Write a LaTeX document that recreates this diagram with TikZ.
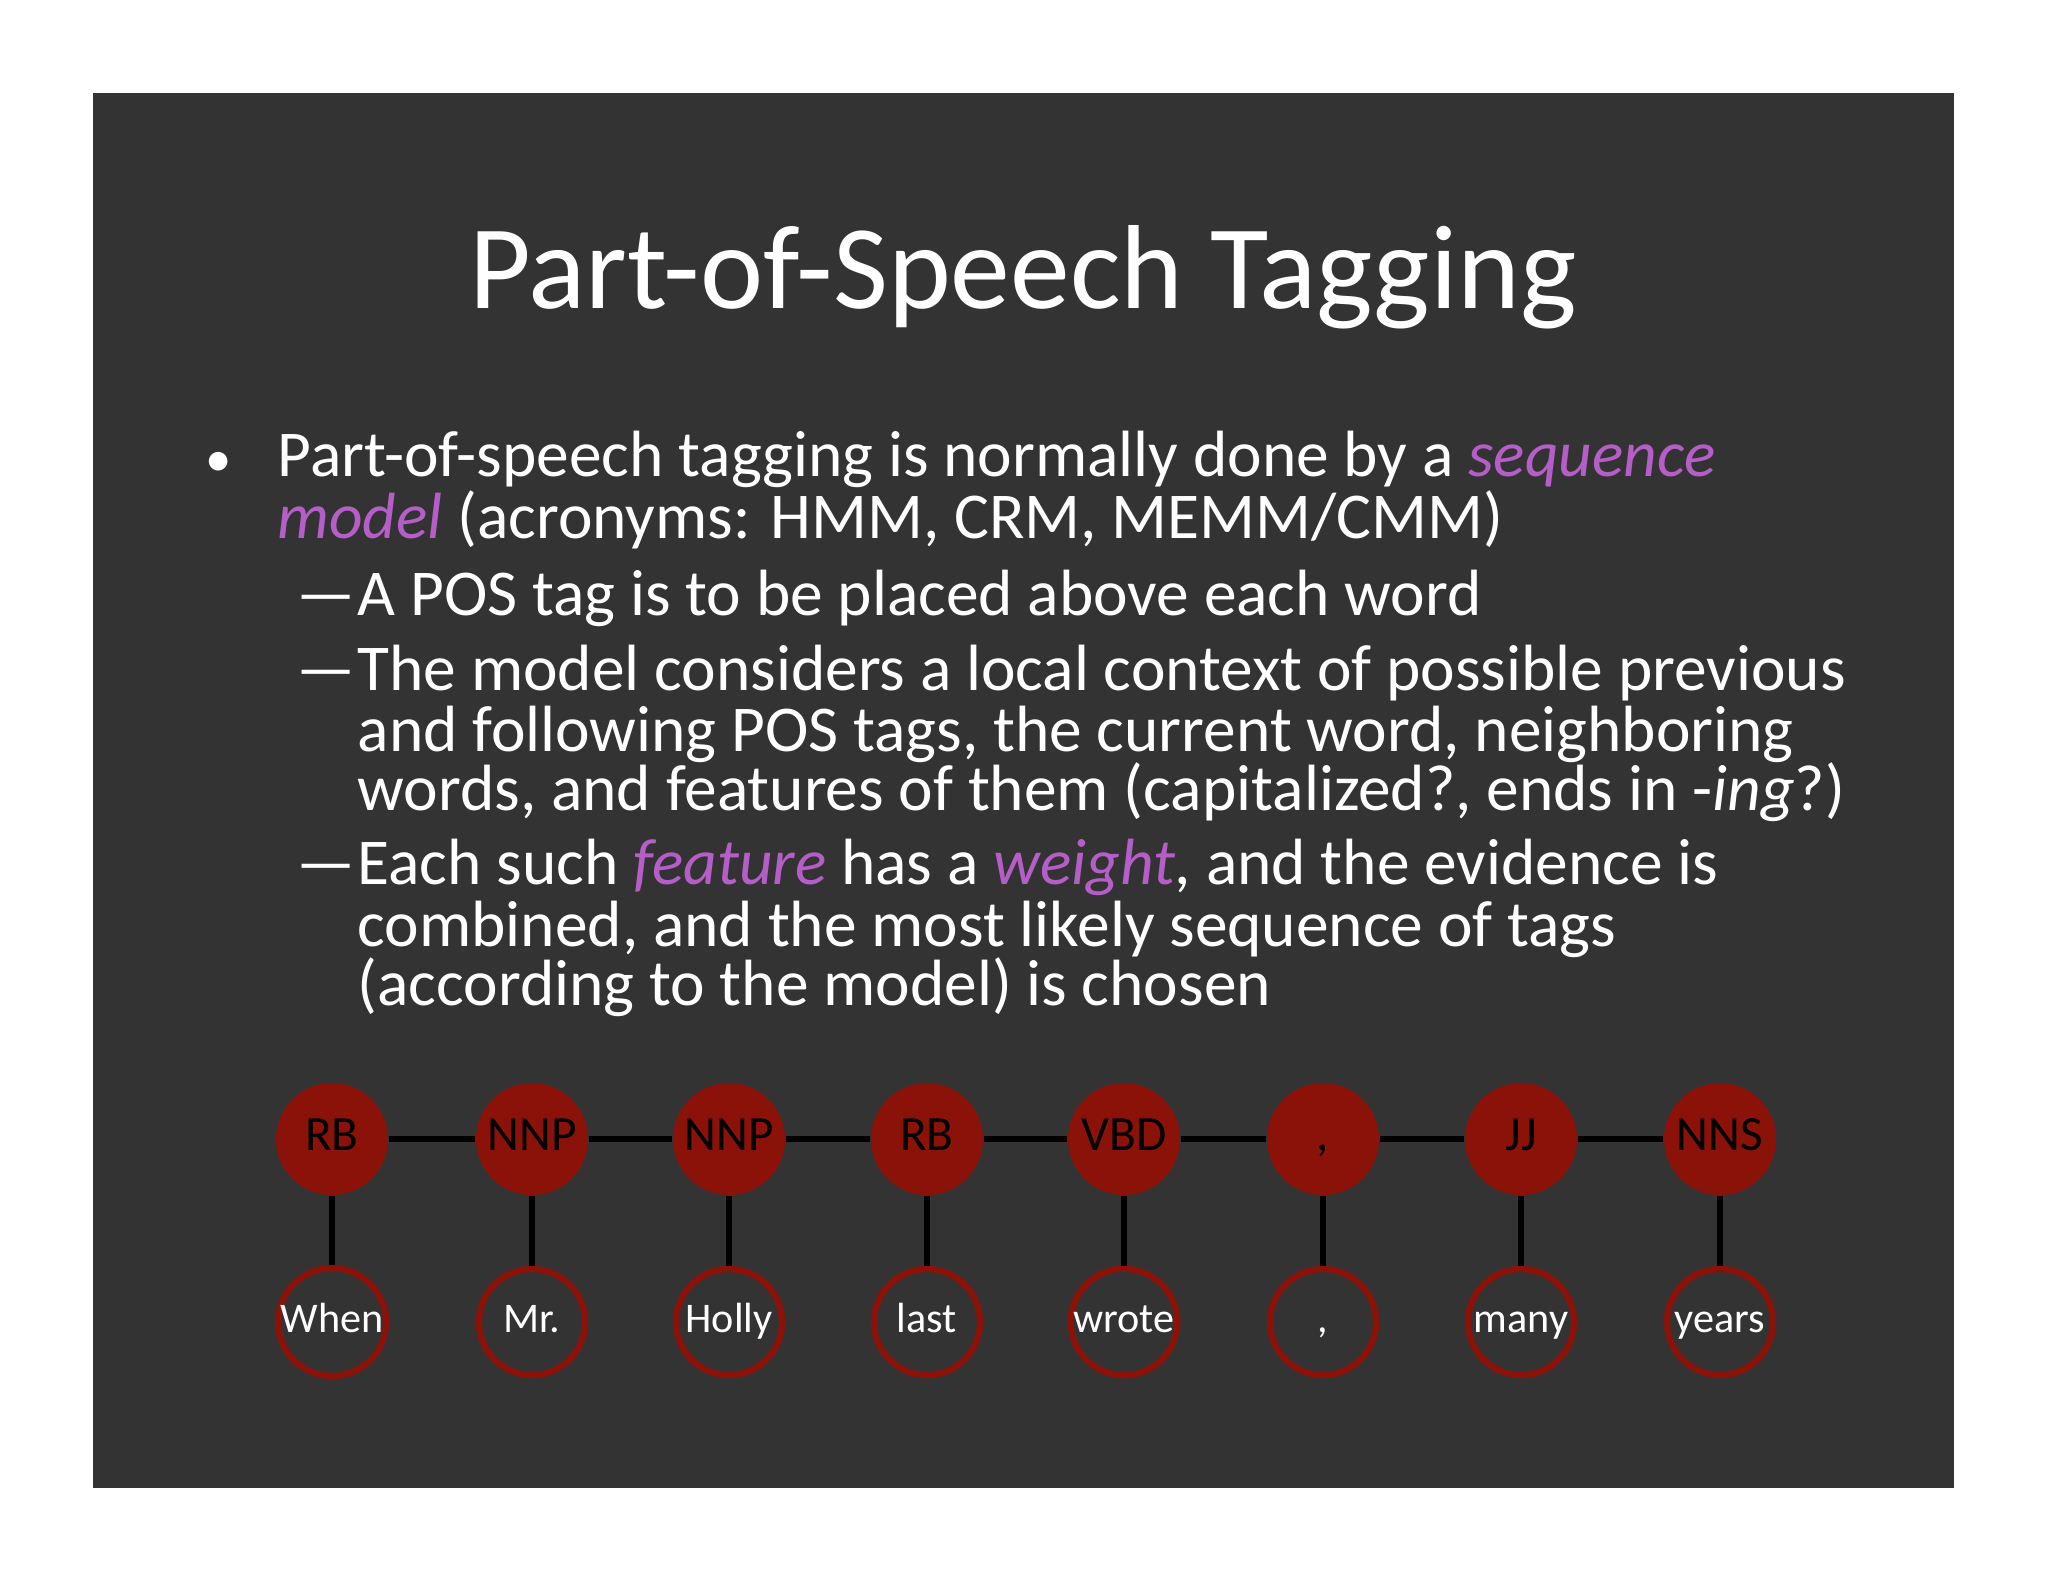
\documentclass[tikz,border=0pt]{standalone}
\usepackage{fontspec}
\setmainfont{Carlito}
\definecolor{bgd}{HTML}{333333}
\definecolor{tagred}{HTML}{8B1208}
\definecolor{purp}{HTML}{B55EC8}
\begin{document}
\begin{tikzpicture}[x=0.01cm,y=-0.01cm,
  txt/.style={anchor=base west,inner sep=0,text=white,font=\fontsize{18.6}{22}\selectfont},
  tag/.style={circle,fill=tagred,minimum size=1.12cm,inner sep=0,font=\fontsize{14}{16}\selectfont,text=black,text height=1.6ex,text depth=0.2ex},
  word/.style={circle,draw=tagred,line width=1.8pt,minimum size=1.06cm,inner sep=0,font=\fontsize{12}{14}\selectfont,text=white,text height=1.6ex,text depth=0.4ex},
  link/.style={line width=1.8pt,black}]
\useasboundingbox (0,0) rectangle (2048,1582);
\fill[white] (0,0) rectangle (2048,1582);
\fill[bgd] (93,93) rectangle (1954,1488);
\node[text=white,font=\fontsize{34}{40}\selectfont] (title) at (1023,277) {Part-of-Speech Tagging};
\node[txt,font=\fontsize{15}{18}\selectfont] (b1) at (205,476) {•};
\node[txt] (l1) at (277,476) {Part-of-speech tagging is normally done by a \textcolor{purp}{\itshape sequence}};
\node[txt] (l2) at (277,538) {\textcolor{purp}{\itshape model} (acronyms: HMM, CRM, MEMM/CMM)};
\node[txt] (d1) at (296,615) {—};
\node[txt] (l3) at (357,615) {A POS tag is to be placed above each word};
\node[txt] (d2) at (296,690) {—};
\node[txt] (l4) at (357,690) {The model considers a local context of possible previous};
\node[txt] (l5) at (357,751) {and following POS tags, the current word, neighboring};
\node[txt] (l6) at (357,810) {words, and features of them (capitalized?, ends in -\textit{ing}?)};
\node[txt] (d3) at (296,884) {—};
\node[txt] (l7) at (357,884) {Each such \textcolor{purp}{\itshape feature} has a \textcolor{purp}{\itshape weight}, and the evidence is};
\node[txt] (l8) at (357,946) {combined, and the most likely sequence of tags};
\node[txt] (l9) at (357,1005) {(according to the model) is chosen};
\foreach \i/\x/\t/\w in {1/332/RB/When,2/532/NNP/Mr.,3/729/NNP/Holly,4/927/RB/last,5/1124/VBD/wrote,6/1323/{,}/{,},7/1521/JJ/many,8/1720/NNS/years}{
  \node[tag] (t\i) at (\x,1139) {\t};
  \node[word] (w\i) at (\x,1322) {\w};
  \draw[link] (t\i) -- (w\i);
}
\foreach \a/\b in {1/2,2/3,3/4,4/5,5/6,6/7,7/8} \draw[link] (t\a) -- (t\b);
\end{tikzpicture}
\end{document}
